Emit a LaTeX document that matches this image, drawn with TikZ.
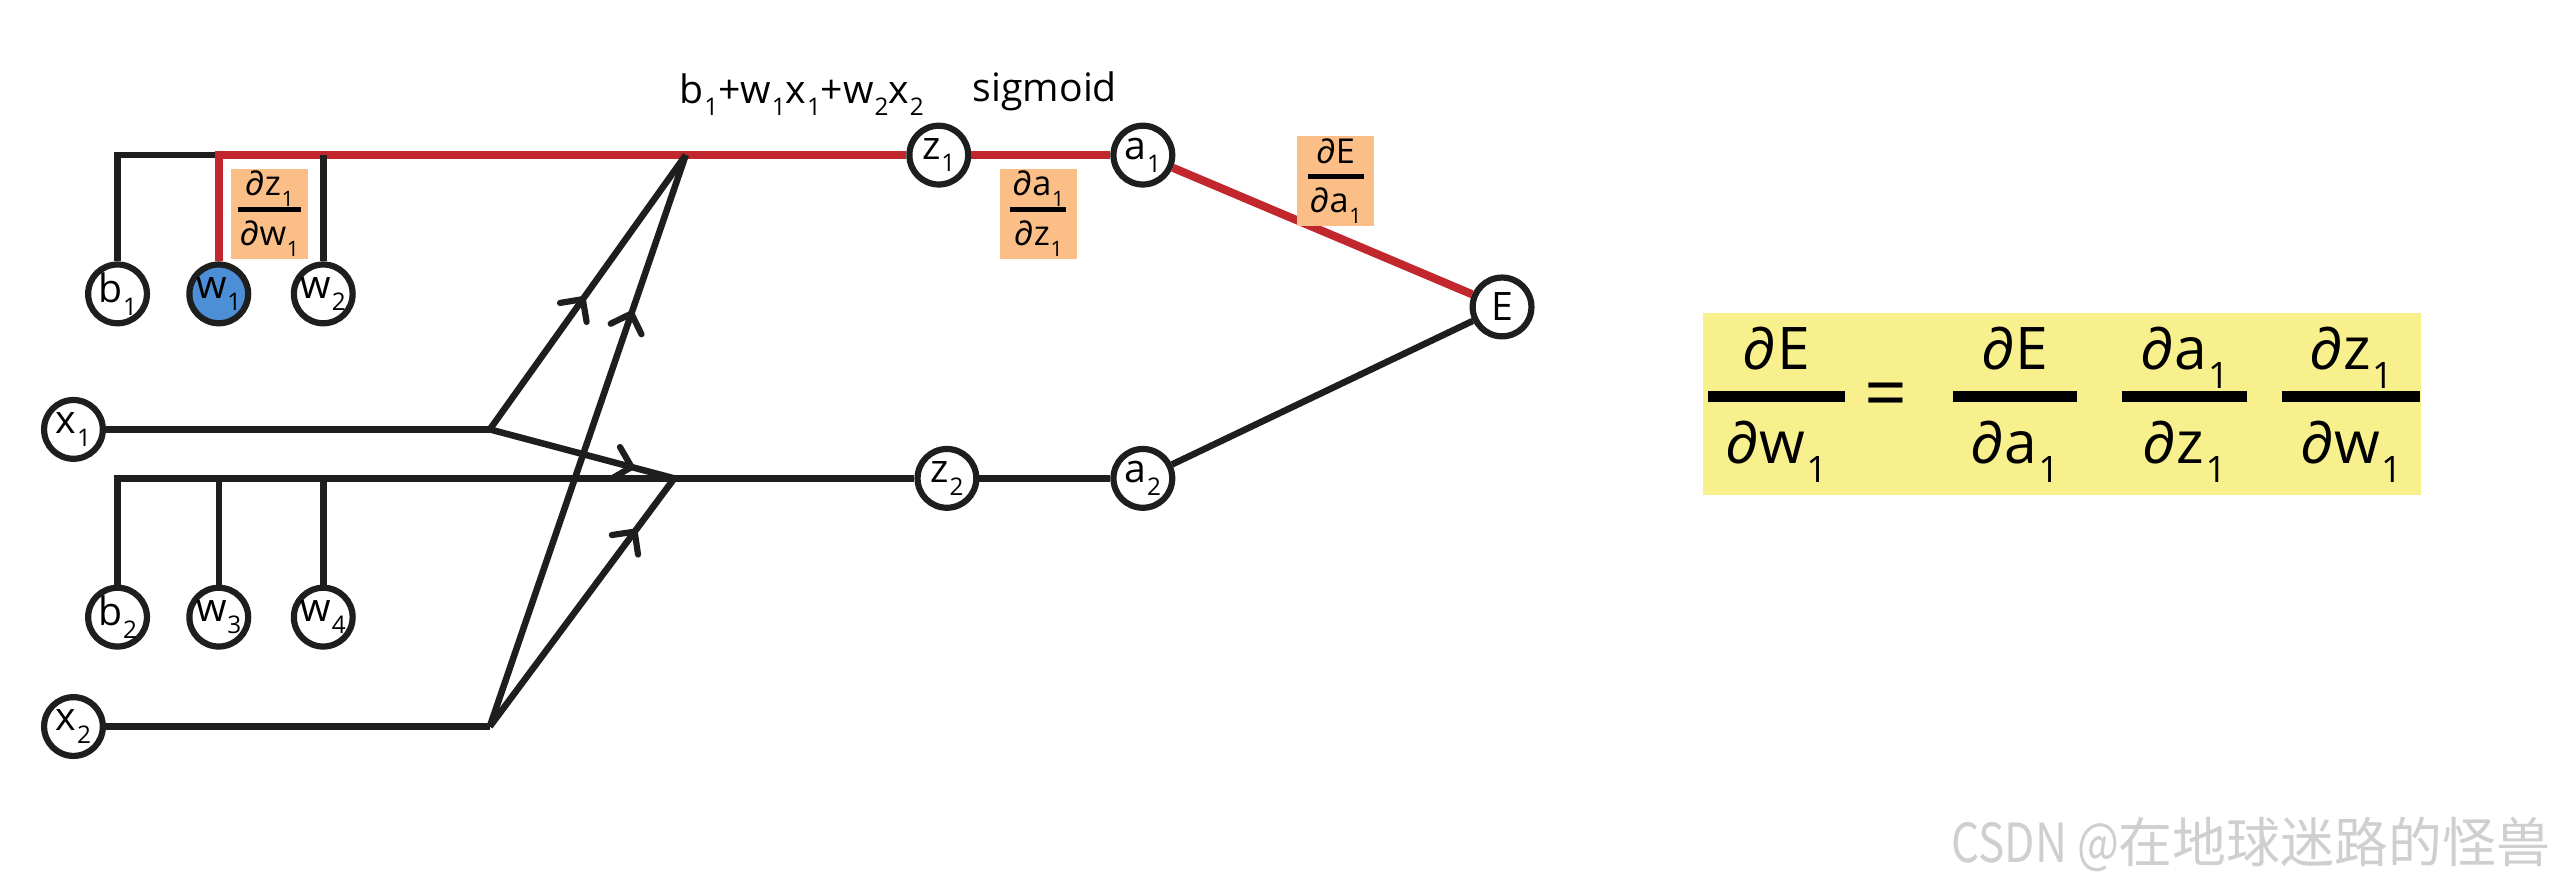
\documentclass[tikz,border=0pt]{standalone}
\usepackage{fontspec}
\setmainfont{Open Sans}
\newfontfamily\cjk{Noto Sans CJK SC}
\usepackage{graphicx}
\usetikzlibrary{arrows.meta,decorations.markings}
\definecolor{redl}{HTML}{C1272D}
\definecolor{blk}{HTML}{1E1E1E}
\definecolor{orng}{HTML}{FBBE87}
\definecolor{yel}{HTML}{F8F08C}
\definecolor{bluef}{HTML}{4C8FD6}
\definecolor{wmk}{HTML}{CFCFCF}
\newcommand\sbx[1]{\kern0.02em\raisebox{-0.32em}{\scalebox{0.62}{#1}}}
\newcommand\fr[2]{{\setlength\arrayrulewidth{0.14em}\renewcommand\arraystretch{1.0}\begin{tabular}{@{\hspace{0.06em}}c@{\hspace{0.06em}}}#1\\[0.0em]\hline\rule{0pt}{1.0em}#2\end{tabular}}}
\newcommand\frq[2]{{\setlength\arrayrulewidth{0.19em}\renewcommand\arraystretch{1.0}\begin{tabular}{@{\hspace{0.3em}}c@{\hspace{0.3em}}}#1\\[0.05em]\hline\rule{0pt}{1.05em}#2\end{tabular}}}
\begin{document}
\begin{tikzpicture}[x=1pt,y=-1pt,
  ln/.style={line width=4pt,blk},
  rl/.style={line width=5pt,redl},
  cn/.style={circle,draw=blk,line width=3.8pt,minimum size=36pt,inner sep=0pt,fill=white,font=\fontsize{24}{24}\selectfont},
  obox/.style={fill=orng,inner sep=1pt,minimum width=47pt,minimum height=55pt,font=\fontsize{21}{21}\selectfont},
  marr/.style={postaction={decorate},decoration={markings,mark=at position #1 with {\draw[line width=3.8pt,blk,line join=round,line cap=round] (-9pt,10pt) -- (1pt,0pt) -- (-9pt,-10pt);}}},
  lbl/.style={font=\fontsize{24}{24}\selectfont}]
\fill[white] (0,0) rectangle (1568,541);
\useasboundingbox (0,0) rectangle (1568,541);
% nodes
\node[cn] (b1) at (72,180) {b\sbx{1}};
\node[cn,fill=bluef] (w1) at (134,180) {w\sbx{1}};
\node[cn] (w2) at (198,180) {w\sbx{2}};
\node[cn] (x1) at (45,263) {x\sbx{1}};
\node[cn] (b2) at (72,378) {b\sbx{2}};
\node[cn] (w3) at (134,378) {w\sbx{3}};
\node[cn] (w4) at (198,378) {w\sbx{4}};
\node[cn] (x2) at (45,445) {x\sbx{2}};
\node[cn] (z1) at (575,95) {z\sbx{1}};
\node[cn] (a1) at (700,95) {a\sbx{1}};
\node[cn] (z2) at (580,293) {z\sbx{2}};
\node[cn] (a2) at (700,293) {a\sbx{2}};
\node[cn] (E) at (920,188) {E};
% junction coordinates
\coordinate (t0) at (72,95);
\coordinate (tw1) at (134,95);
\coordinate (tw2) at (198,95);
\coordinate (J1) at (420,95);
\coordinate (s0) at (72,293);
\coordinate (sw3) at (134,293);
\coordinate (sw4) at (198,293);
\coordinate (J2) at (413,293);
\coordinate (p1) at (300,263);
\coordinate (p2) at (300,445);
% top line
\draw[ln,line join=miter] (b1) -- (t0) -- ([xshift=1pt]tw1);
\draw[rl,line join=miter] (w1) -- (tw1) -- (z1);
\draw[rl] (z1) -- (a1);
\draw[rl] (a1) -- (E);
\draw[ln] (w2) -- (tw2);
% bottom line
\draw[ln,line join=miter] (b2) -- (s0) -- (z2);
\draw[ln] (w3) -- (sw3);
\draw[ln] (w4) -- (sw4);
\draw[ln] (z2) -- (a2);
\draw[ln] (a2) -- (E);
% inputs
\draw[ln] (x1) -- (p1);
\draw[ln] (x2) -- (p2);
\draw[ln,marr=0.47] (p1) -- (J1);
\draw[ln,marr=0.76] (p1) -- (J2);
\draw[ln,marr=0.72] (p2) -- (J1);
\draw[ln,marr=0.78] (p2) -- (J2);
% labels
\node[lbl] (sum) at (491,58) {b\sbx{1}+w\sbx{1}x\sbx{1}+w\sbx{2}x\sbx{2}};
\node[lbl] (sig) at (640,56) {sigmoid};
\node[obox] (d1) at (165,131) {\fr{∂z\sbx{1}}{∂w\sbx{1}}};
\node[obox] (d2) at (636,131) {\fr{∂a\sbx{1}}{∂z\sbx{1}}};
\node[obox] (d3) at (818,111) {\fr{∂E}{∂a\sbx{1}}};
% equation
\node[fill=yel,minimum width=440pt,minimum height=111pt,inner sep=0pt] (eqbox) at (1263,247.5) {};
\begin{scope}[every node/.style={font=\fontsize{36}{36}\selectfont,inner sep=0pt}]
\node (f1) at (1088,248) {\frq{∂E}{∂w\sbx{1}}};
\node[font=\fontsize{46}{46}\selectfont] (eq) at (1155,246) {=};
\node (f2) at (1234,248) {\frq{∂E}{∂a\sbx{1}}};
\node (f3) at (1338,248) {\frq{∂a\sbx{1}}{∂z\sbx{1}}};
\node (f4) at (1440,248) {\frq{∂z\sbx{1}}{∂w\sbx{1}}};
\end{scope}
% watermark
\node[text=wmk,anchor=east,inner sep=0pt] (wm) at (1562,517) {\cjk\fontsize{33}{33}\selectfont\scalebox{0.82}[1]{CSDN @}在地球迷路的怪兽};
\end{tikzpicture}
\end{document}
